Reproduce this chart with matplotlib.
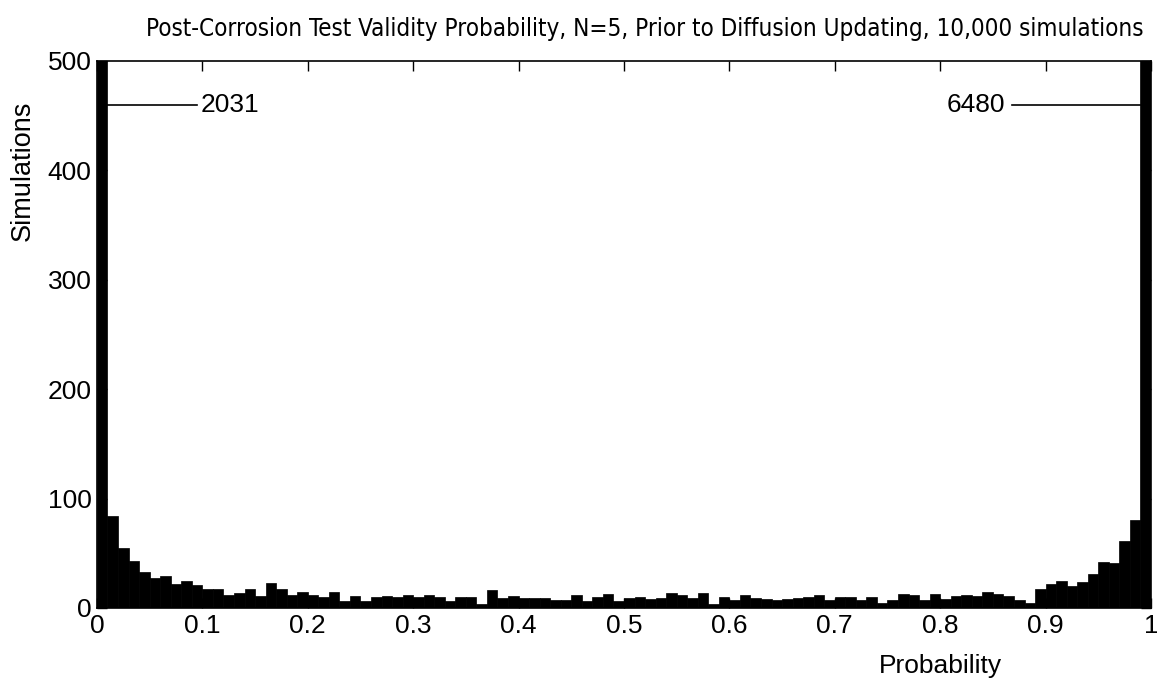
import matplotlib
matplotlib.use("Agg")

import numpy as np
import matplotlib.pyplot as plt

# histogram counts, 100 bins of width 0.01 over [0, 1]
bin_left = np.arange(100) / 100.0
counts = [2031, 84, 55, 43, 33, 27, 29, 22, 25, 21,
          17, 17, 12, 14, 17, 11, 23, 17, 12, 15,
          12, 10, 15, 6, 11, 6, 10, 11, 10, 12,
          10, 12, 10, 6, 10, 10, 4, 16, 9, 11,
          9, 9, 9, 7, 7, 12, 6, 10, 13, 6,
          9, 10, 8, 9, 14, 12, 9, 14, 4, 10,
          7, 12, 9, 8, 7, 8, 9, 10, 12, 7,
          10, 10, 7, 10, 5, 7, 13, 12, 7, 13,
          8, 11, 12, 11, 15, 13, 11, 7, 5, 17,
          22, 25, 20, 24, 31, 42, 41, 61, 80, 6480]

x_ticks = np.round(np.arange(0, 1.01, 0.1), 1)
x_tick_labels = ["0", "0.1", "0.2", "0.3", "0.4", "0.5", "0.6", "0.7", "0.8", "0.9", "1"]
y_ticks = [0, 100, 200, 300, 400, 500]

plt.rcParams["font.family"] = ["Liberation Sans", "DejaVu Sans"]

fig = plt.figure(figsize=(11.57, 6.79), dpi=100)
ax = fig.add_axes([0.0838, 0.1046, 0.911, 0.8056])

ax.bar(bin_left, counts, width=0.01, align="edge", color="black", edgecolor="black", lw=0.5)

# labels for the clipped end bins
ax.plot([0.009, 0.095], [460, 460], color="black", lw=1.2)
ax.text(0.098, 460, str(counts[0]), va="center", ha="left", fontsize=19)
ax.plot([0.868, 0.99], [460, 460], color="black", lw=1.2)
ax.text(0.862, 460, str(counts[-1]), va="center", ha="right", fontsize=19)

ax.set_xlim(0, 1)
ax.set_ylim(0, 500)
ax.set_xticks(x_ticks)
ax.set_xticklabels(x_tick_labels)
ax.set_yticks(y_ticks)
ax.tick_params(direction="in", length=7, width=1, top=True, right=True, labelsize=19, pad=4)
for s in ax.spines.values():
    s.set_linewidth(1.2)

ax.set_xlabel("Probability", fontsize=19)
ax.xaxis.set_label_coords(0.80, -0.085)
ax.set_ylabel("Simulations", fontsize=19.5)
ax.yaxis.set_label_coords(-0.058, 0.80)

ax.set_title("Post-Corrosion Test Validity Probability, N=5, Prior to Diffusion Updating, 10,000 simulations",
             fontsize=17.4, family="DejaVu Sans", fontstretch="condensed",
             x=0.52, pad=18)

fig.savefig("out.png", dpi=100)
plt.close(fig)
